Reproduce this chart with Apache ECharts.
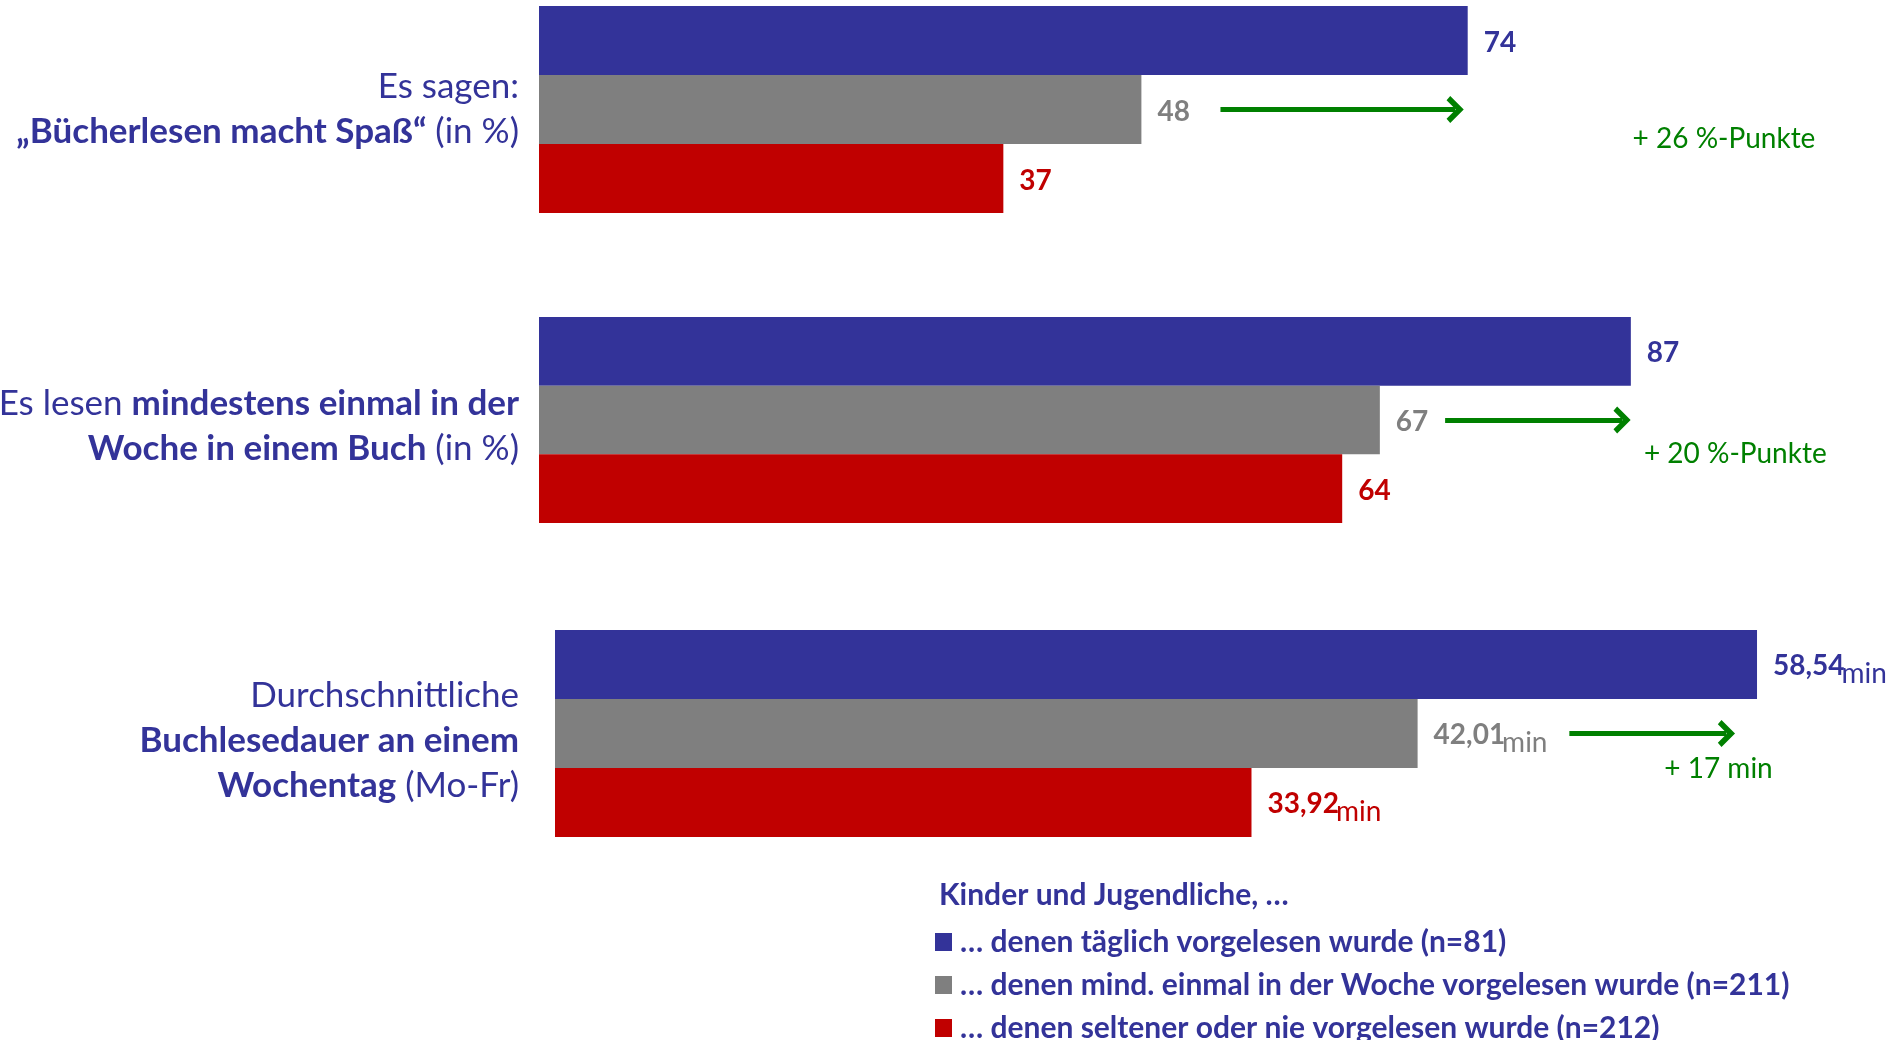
<!DOCTYPE html>
<html>
<head>
<meta charset="utf-8">
<script src="https://cdn.jsdelivr.net/npm/echarts@6/dist/echarts.min.js"></script>
<style>
  html, body { margin: 0; padding: 0; background: #ffffff; }
  #chart { width: 1891px; height: 1040px; }
</style>
</head>
<body>
<div id="chart"></div>
<script>
// ---- data ----
const categories = ['Bücherlesen macht Spaß', 'Mindestens einmal pro Woche im Buch', 'Buchlesedauer Wochentag'];
const categoryLabels = [
  '{r|Es sagen:}\n{b|„Bücherlesen macht Spaß“}{r| (in %)}',
  '{r|Es lesen }{b|mindestens einmal in der}\n{b|Woche in einem Buch}{r| (in %)}',
  '{r|Durchschnittliche}\n{b|Buchlesedauer an einem}\n{b|Wochentag}{r| (Mo-Fr)}'
];
const seriesNames = [
  '… denen täglich vorgelesen wurde (n=81)',
  '… denen mind. einmal in der Woche vorgelesen wurde (n=211)',
  '… denen seltener oder nie vorgelesen wurde (n=212)'
];
const daily = [74, 87, 58.54];
const weekly = [48, 67, 42.01];
const rarely = [37, 64, 33.92];
const gains = ['+ 26 %-Punkte', '+ 20 %-Punkte', '+ 17 min'];
const legendTitle = 'Kinder und Jugendliche, …';

// ---- annotation placement (in axis units) ----
const arrowFrom = [54.3, 72.2, 49.4];
const arrowTo = [73.0, 86.3, 57.05];
const gainAt = [87.1, 88.0, 54.0];
const gainDy = [29, 34, 35];

// ---- styling ----
const colors = ['#333399', '#7f7f7f', '#c00000'];
const green = '#008000';
const FONT = 'Lato';
const values = [daily, weekly, rarely];

const grids = [
  { left: 539, top: 6, width: 1255, height: 207, outerBoundsMode: 'none', containLabel: false },
  { left: 539, top: 317, width: 1255, height: 206, outerBoundsMode: 'none', containLabel: false },
  { left: 555, top: 630, width: 1232, height: 207, outerBoundsMode: 'none', containLabel: false }
];
const xMax = [100, 100, 60];
const labelMargin = [20, 20, 36];
const labelShift = [0, 6, 7];

const chevron = 'path://M0,11 L11,0 L22,11 L18.5,14 L11,6.5 L3.5,14 Z';

function fmtValue(g, v, s) {
  if (g === 2) {
    return '{v' + s + '|' + v.toFixed(2).replace('.', ',') + '}{m' + s + '|min}';
  }
  return String(v);
}

const series = [];
for (let g = 0; g < 3; g++) {
  for (let s = 0; s < 3; s++) {
    const rich = {};
    rich['v' + s] = { fontFamily: FONT, fontWeight: 'bold', fontSize: 28, color: colors[s], verticalAlign: 'top', lineHeight: 30 };
    rich['m' + s] = { fontFamily: FONT, fontWeight: 'normal', fontSize: 28, color: colors[s], verticalAlign: 'top', lineHeight: 30, padding: [8, 0, 0, -3] };
    const ser = {
      type: 'bar',
      name: seriesNames[s],
      xAxisIndex: g,
      yAxisIndex: g,
      data: [values[s][g]],
      barGap: '0%',
      barCategoryGap: '0%',
      itemStyle: { color: colors[s] },
      emphasis: { disabled: true },
      silent: true,
      label: {
        show: true,
        position: 'right',
        distance: 16,
        offset: [0, 2],
        fontFamily: FONT,
        fontWeight: 'bold',
        fontSize: 28,
        color: colors[s],
        formatter: (p) => fmtValue(g, p.value, s),
        rich: rich
      }
    };
    if (s === 1) {
      ser.markLine = {
        silent: true,
        symbol: ['none', chevron],
        symbolSize: 27,
        symbolKeepAspect: true,
        lineStyle: { color: green, width: 5, type: 'solid' },
        label: { show: false },
        emphasis: { disabled: true },
        data: [[{ coord: [arrowFrom[g], categories[g]] }, { coord: [arrowTo[g], categories[g]] }]]
      };
      ser.markPoint = {
        silent: true,
        symbol: 'circle',
        symbolSize: 1,
        itemStyle: { color: 'rgba(0,0,0,0)' },
        label: {
          show: true,
          position: 'right',
          distance: 0,
          offset: [0, gainDy[g]],
          fontFamily: FONT,
          fontSize: 28,
          color: green,
          formatter: () => gains[g]
        },
        data: [{ coord: [gainAt[g], categories[g]] }]
      };
    }
    series.push(ser);
  }
}

const chart = echarts.init(document.getElementById('chart'), null, { renderer: 'canvas' });
chart.setOption({
  animation: false,
  backgroundColor: '#ffffff',
  title: {
    text: legendTitle,
    left: 934,
    top: 873,
    textStyle: { fontFamily: FONT, fontWeight: 'bold', fontSize: 30, color: '#333399', lineHeight: 34 }
  },
  legend: {
    data: seriesNames,
    orient: 'vertical',
    left: 930,
    top: 920,
    height: 160,
    icon: 'rect',
    itemWidth: 17,
    itemHeight: 18,
    itemGap: 9,
    selectedMode: false,
    textStyle: { fontFamily: FONT, fontWeight: 'bold', fontSize: 30, color: '#333399', lineHeight: 34, padding: [0, 0, 0, 3] }
  },
  grid: grids,
  xAxis: grids.map((_, g) => ({
    type: 'value', gridIndex: g, min: 0, max: xMax[g], show: false
  })),
  yAxis: grids.map((_, g) => ({
    type: 'category',
    gridIndex: g,
    data: [categories[g]],
    axisLine: { show: false },
    axisTick: { show: false },
    splitLine: { show: false },
    axisLabel: {
      margin: labelMargin[g],
      align: 'right',
      padding: [labelShift[g] * 2, 0, 0, 0],
      formatter: () => categoryLabels[g],
      rich: {
        r: { fontFamily: FONT, fontSize: 35, color: '#333399', lineHeight: 45, align: 'right' },
        b: { fontFamily: FONT, fontSize: 35, fontWeight: 'bold', color: '#333399', lineHeight: 45, align: 'right' }
      }
    }
  })),
  series: series
});
</script>
</body>
</html>
